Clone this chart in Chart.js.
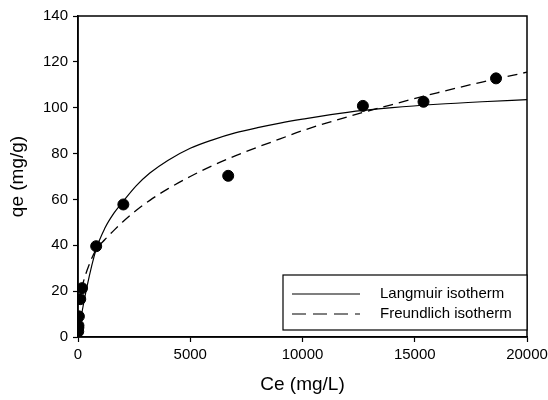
<!DOCTYPE html>
<html>
<head>
<meta charset="utf-8">
<script src="https://cdn.jsdelivr.net/npm/chart.js@4.4.0/dist/chart.umd.min.js"></script>
<style>
  html, body { margin: 0; padding: 0; background: #fff; }
  #wrap { width: 548px; height: 400px; position: relative; }
</style>
</head>
<body>
<div id="wrap"><canvas id="c" width="548" height="400"></canvas></div>
<script>
// Measured data (Ce in mg/L, qe in mg/g)
const ceData = [10, 15, 20, 40, 100, 180, 810, 2020, 6690, 12690, 15390, 18620];
const qeData = [2.4, 4.0, 5.0, 9.0, 16.5, 21.3, 39.6, 57.8, 70.3, 100.8, 102.6, 112.8];

// Langmuir isotherm curve
const langC = [0, 100, 200, 400, 800, 1200, 1600, 2000, 2600, 3200, 4000, 5000, 6000, 7000, 8000, 9000, 10000, 12000, 14000, 16000, 18000, 20000];
const langQ = [0, 6, 12, 22, 38, 47.5, 54, 59, 66, 71.5, 77, 82.3, 86, 89, 91.3, 93.3, 95, 98, 100, 101.5, 102.6, 103.5];

// Freundlich isotherm curve
const freuC = [0, 10, 50, 100, 200, 400, 800, 1200, 1600, 2000, 2600, 3200, 4000, 5000, 6000, 7000, 8000, 9000, 10000, 12000, 14000, 16000, 18000, 20000];
const freuQ = [0, 7.5, 13.5, 17.5, 22.5, 29, 38, 42.5, 46.5, 50.3, 55.3, 59.6, 64.6, 70, 74.8, 79, 82.8, 86.4, 90, 96, 101.4, 106.5, 111.2, 115.5];

const xTicks = [0, 5000, 10000, 15000, 20000];
const yTicks = [0, 20, 40, 60, 80, 100, 120, 140];

const legendLabels = ['Langmuir isotherm', 'Freundlich isotherm'];

const pts = (xs, ys) => xs.map((x, i) => ({ x: x, y: ys[i] }));

const FONT = "'Liberation Sans', Arial, sans-serif";

const framePlugin = {
  id: 'frame',
  afterDraw(chart) {
    const { ctx, chartArea: a } = chart;
    ctx.save();
    ctx.strokeStyle = '#000';
    ctx.lineWidth = 1.5;
    ctx.strokeRect(a.left, a.top, a.right - a.left, a.bottom - a.top);

    // legend box
    const bx = 283, by = 275, bw = a.right - 283, bh = 55;
    ctx.fillStyle = '#fff';
    ctx.fillRect(bx, by, bw, bh);
    ctx.lineWidth = 1.2;
    ctx.strokeRect(bx, by, bw, bh);

    ctx.lineWidth = 1.2;
    ctx.beginPath();
    ctx.moveTo(292, 294); ctx.lineTo(360, 294);
    ctx.stroke();
    ctx.setLineDash([14, 7]);
    ctx.beginPath();
    ctx.moveTo(292, 314); ctx.lineTo(360, 314);
    ctx.stroke();
    ctx.setLineDash([]);

    ctx.fillStyle = '#000';
    ctx.font = '15px ' + FONT;
    ctx.textBaseline = 'middle';
    ctx.textAlign = 'left';
    ctx.fillText(legendLabels[0], 380, 294);
    ctx.fillText(legendLabels[1], 380, 314);
    ctx.restore();
  }
};

new Chart(document.getElementById('c'), {
  type: 'scatter',
  data: {
    datasets: [
      {
        label: 'data',
        data: pts(ceData, qeData),
        backgroundColor: '#000',
        borderColor: '#000',
        pointRadius: 5.5,
        pointHoverRadius: 5.5,
        order: 0
      },
      {
        label: legendLabels[0],
        data: pts(langC, langQ),
        showLine: true,
        borderColor: '#000',
        borderWidth: 1.2,
        pointRadius: 0,
        cubicInterpolationMode: 'monotone',
        order: 1
      },
      {
        label: legendLabels[1],
        data: pts(freuC, freuQ),
        showLine: true,
        borderColor: '#000',
        borderWidth: 1.3,
        borderDash: [10, 6],
        pointRadius: 0,
        cubicInterpolationMode: 'monotone',
        order: 2
      }
    ]
  },
  options: {
    responsive: false,
    animation: false,
    devicePixelRatio: 1,
    layout: { padding: { left: 0, right: 21, top: 16, bottom: 0 } },
    plugins: { legend: { display: false }, tooltip: { enabled: false } },
    scales: {
      x: {
        type: 'linear',
        min: 0, max: 20000,
        afterBuildTicks(s) { s.ticks = xTicks.map(v => ({ value: v })); },
        afterFit(s) { s.height = 63; s.paddingRight = 0; s.paddingLeft = 0; },
        grid: { drawOnChartArea: false, drawTicks: true, tickLength: 5, color: '#000', tickWidth: 1.2 },
        border: { display: true, color: '#000', width: 1.5 },
        ticks: { color: '#000', font: { family: FONT, size: 15 }, padding: 4, maxRotation: 0, callback: v => String(v) },
        title: { display: true, text: 'Ce (mg/L)', color: '#000', font: { family: FONT, size: 19 }, padding: { top: 6, bottom: 4 } }
      },
      y: {
        type: 'linear',
        min: 0, max: 140,
        afterBuildTicks(s) { s.ticks = yTicks.map(v => ({ value: v })); },
        afterFit(s) { s.width = 78; s.paddingTop = 0; s.paddingBottom = 0; },
        grid: { drawOnChartArea: false, drawTicks: true, tickLength: 5, color: '#000', tickWidth: 1.2 },
        border: { display: true, color: '#000', width: 1.5 },
        ticks: { color: '#000', font: { family: FONT, size: 15 }, padding: 5, callback: v => String(v) },
        title: { display: true, text: 'qe (mg/g)', color: '#000', font: { family: FONT, size: 19 }, padding: { top: 6, bottom: 4 } }
      }
    }
  },
  plugins: [framePlugin]
});
</script>
</body>
</html>
